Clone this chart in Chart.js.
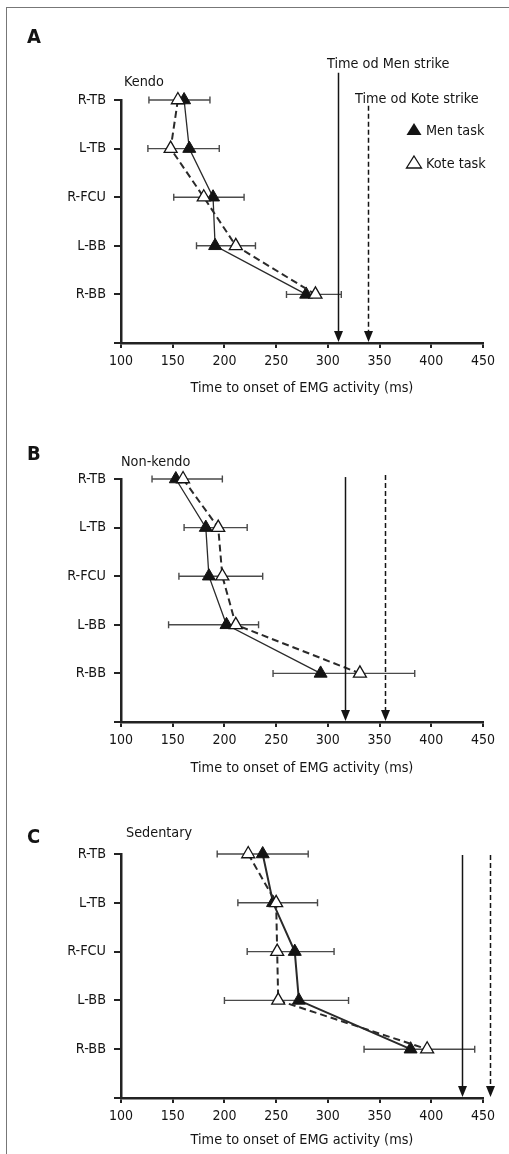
<!DOCTYPE html>
<html>
<head>
<meta charset="utf-8">
<script src="https://cdn.jsdelivr.net/npm/chart.js@4.4.0/dist/chart.umd.min.js"></script>
<style>
  html, body { margin: 0; padding: 0; background: #fff; }
  #page { position: relative; width: 509px; height: 1154px; overflow: hidden; }
  #frame { position: absolute; left: 6px; top: 7px; right: -5px; bottom: -5px;
           border-top: 1px solid #777; border-left: 1px solid #777; }
  .panel { position: absolute; left: 0; width: 509px; }
</style>
</head>
<body>
<div id="page">
  <div id="frame"></div>
  <div class="panel" style="top:0;height:400px"><canvas id="chartA"></canvas></div>
  <div class="panel" style="top:400px;height:380px"><canvas id="chartB"></canvas></div>
  <div class="panel" style="top:780px;height:372px"><canvas id="chartC"></canvas></div>
</div>
<script>
// muscles, top to bottom
const muscles = ["R-TB", "L-TB", "R-FCU", "L-BB", "R-BB"];
const xTicks = [100, 150, 200, 250, 300, 350, 400, 450];

// A - Kendo
const kendoMen = [161, 166, 189, 191, 279];
const kendoKote = [155, 148, 180, 211, 288];
const kendoErrLow = [127, 126, 151, 173, 260];
const kendoErrHigh = [186, 195, 219, 230, 313];
const kendoStrike = [310, 339]; // men, kote

// B - Non-kendo
const nonKendoMen = [153, 182, 185, 202, 293];
const nonKendoKote = [160, 194, 198, 211, 331];
const nonKendoErrLow = [130, 161, 156, 146, 247];
const nonKendoErrHigh = [198, 222, 237, 233, 384];
const nonKendoStrike = [317, 355];

// C - Sedentary
const sedMen = [237, 247, 268, 272, 380];
const sedKote = [223, 250, 251, 252, 396];
const sedErrLow = [193, 213, 222, 200, 335];
const sedErrHigh = [281, 290, 306, 320, 442];
const sedStrike = [430, 457];

const FONT = '"Liberation Sans Narrow", "Arial Narrow", "DejaVu Sans Condensed", sans-serif';
const INK = "#141414";
const TXT = 14.3;

function triangle(ctx, cx, cy, w, h, fill) {
  ctx.beginPath();
  ctx.moveTo(cx, cy - h / 2);
  ctx.lineTo(cx + w / 2, cy + h / 2);
  ctx.lineTo(cx - w / 2, cy + h / 2);
  ctx.closePath();
  if (fill) { ctx.fillStyle = INK; ctx.fill(); }
  else { ctx.fillStyle = "#fff"; ctx.fill(); ctx.lineWidth = 1.3; ctx.strokeStyle = INK; ctx.stroke(); }
}

function decor(p) {
  return {
    id: "decor",
    beforeDatasetsDraw(chart) {
      const { ctx, scales: { x, y } } = chart;
      ctx.save();
      ctx.strokeStyle = "#4a4a4a";
      ctx.lineWidth = 1.4;
      muscles.forEach((m, i) => {
        const py = y.getPixelForValue(i);
        const x1 = x.getPixelForValue(p.errLow[i]);
        const x2 = x.getPixelForValue(p.errHigh[i]);
        ctx.beginPath();
        ctx.moveTo(x1, py); ctx.lineTo(x2, py);
        ctx.moveTo(x1, py - 3.5); ctx.lineTo(x1, py + 3.5);
        ctx.moveTo(x2, py - 3.5); ctx.lineTo(x2, py + 3.5);
        ctx.stroke();
      });
      ctx.restore();
    },
    afterDraw(chart) {
      const { ctx, chartArea, scales: { x, y } } = chart;
      ctx.save();
      // strike time arrows
      const bottom = chartArea.bottom - 1;
      [0, 1].forEach(k => {
        const px = Math.round(x.getPixelForValue(p.strike[k])) + 0.5;
        const top = y.getPixelForValue(p.strikeTop[k]);
        ctx.strokeStyle = INK;
        ctx.lineWidth = 1.5;
        ctx.setLineDash(k === 0 ? [] : [5, 3]);
        ctx.beginPath();
        ctx.moveTo(px, top);
        ctx.lineTo(px, bottom - 9);
        ctx.stroke();
        ctx.setLineDash([]);
        ctx.fillStyle = INK;
        ctx.beginPath();
        ctx.moveTo(px - 4.5, bottom - 11);
        ctx.lineTo(px + 4.5, bottom - 11);
        ctx.lineTo(px, bottom);
        ctx.closePath();
        ctx.fill();
      });

      ctx.fillStyle = INK;
      ctx.textBaseline = "alphabetic";
      ctx.textAlign = "left";
      ctx.font = "bold 20px " + FONT;
      ctx.fillText(p.letter, 27, p.letterY);
      ctx.font = TXT + "px " + FONT;
      ctx.fillText(p.group, p.groupX, p.groupY);

      if (p.legend) {
        ctx.fillText("Time od Men strike", 327, 68);
        ctx.fillText("Time od Kote strike", 355, 103);
        triangle(ctx, 414, 129, 15, 12, true);
        ctx.fillStyle = INK;
        ctx.fillText(chart.data.datasets[1].label, 426, 135);
        triangle(ctx, 414, 162, 15, 12, false);
        ctx.fillStyle = INK;
        ctx.fillText(chart.data.datasets[0].label, 426, 168);
      }
      ctx.restore();
    }
  };
}

function makePanel(id, p) {
  const pts = vals => muscles.map((m, i) => ({ x: vals[i], y: m }));
  return new Chart(document.getElementById(id), {
    type: "line",
    data: {
      datasets: [
        {
          label: "Kote task",
          data: pts(p.kote),
          borderColor: "#2a2a2a",
          borderWidth: 2,
          borderDash: [7, 4],
          pointStyle: "triangle",
          pointRadius: 7.5,
          pointBackgroundColor: "#fff",
          pointBorderColor: INK,
          pointBorderWidth: 1.3,
          tension: 0,
          clip: false
        },
        {
          label: "Men task",
          data: pts(p.men),
          borderColor: "#2a2a2a",
          borderWidth: p.menWidth,
          pointStyle: "triangle",
          pointRadius: 7.5,
          pointBackgroundColor: INK,
          pointBorderColor: INK,
          pointBorderWidth: 1,
          tension: 0,
          clip: false
        }
      ]
    },
    options: {
      responsive: true,
      maintainAspectRatio: false,
      animation: false,
      layout: { padding: { top: p.padTop, right: 26, left: 0, bottom: 0 } },
      plugins: { legend: { display: false }, tooltip: { enabled: false } },
      scales: {
        x: {
          type: "linear",
          min: xTicks[0],
          max: xTicks[xTicks.length - 1],
          afterBuildTicks: s => { s.ticks = xTicks.map(v => ({ value: v })); },
          ticks: { color: INK, font: { family: FONT, size: 14 }, padding: 5, maxRotation: 0, autoSkip: false },
          grid: { drawOnChartArea: false, tickLength: 5, color: "#222", lineWidth: 2 },
          border: { color: "#222", width: 2.5 },
          title: {
            display: true,
            text: "Time to onset of EMG activity (ms)",
            color: INK,
            font: { family: FONT, size: TXT },
            padding: { top: 0, bottom: 3 }
          },
          afterFit: s => { s.height = p.axisH; }
        },
        y: {
          type: "category",
          labels: [...muscles, ""],
          offset: false,
          ticks: { color: INK, font: { family: FONT, size: 14.3 }, padding: 8, autoSkip: false },
          grid: { drawOnChartArea: false, tickLength: 7, color: "#222", lineWidth: 2 },
          border: { color: "#222", width: 2.5 },
          afterFit: s => { s.width = 121; }
        }
      }
    },
    plugins: [decor(p)]
  });
}

makePanel("chartA", {
  men: kendoMen, kote: kendoKote, errLow: kendoErrLow, errHigh: kendoErrHigh,
  strike: kendoStrike, strikeTop: [-0.56, 0.12],
  letter: "A", letterY: 43, group: "Kendo", groupX: 124, groupY: 86,
  padTop: 100, axisH: 57, menWidth: 1.3, legend: true
});
makePanel("chartB", {
  men: nonKendoMen, kote: nonKendoKote, errLow: nonKendoErrLow, errHigh: nonKendoErrHigh,
  strike: nonKendoStrike, strikeTop: [-0.04, -0.08],
  letter: "B", letterY: 60, group: "Non-kendo", groupX: 121, groupY: 66,
  padTop: 79, axisH: 58, menWidth: 1.3, legend: false
});
makePanel("chartC", {
  men: sedMen, kote: sedKote, errLow: sedErrLow, errHigh: sedErrHigh,
  strike: sedStrike, strikeTop: [0.02, 0.02],
  letter: "C", letterY: 63, group: "Sedentary", groupX: 126, groupY: 57,
  padTop: 74, axisH: 54, menWidth: 2, legend: false
});
</script>
</body>
</html>
